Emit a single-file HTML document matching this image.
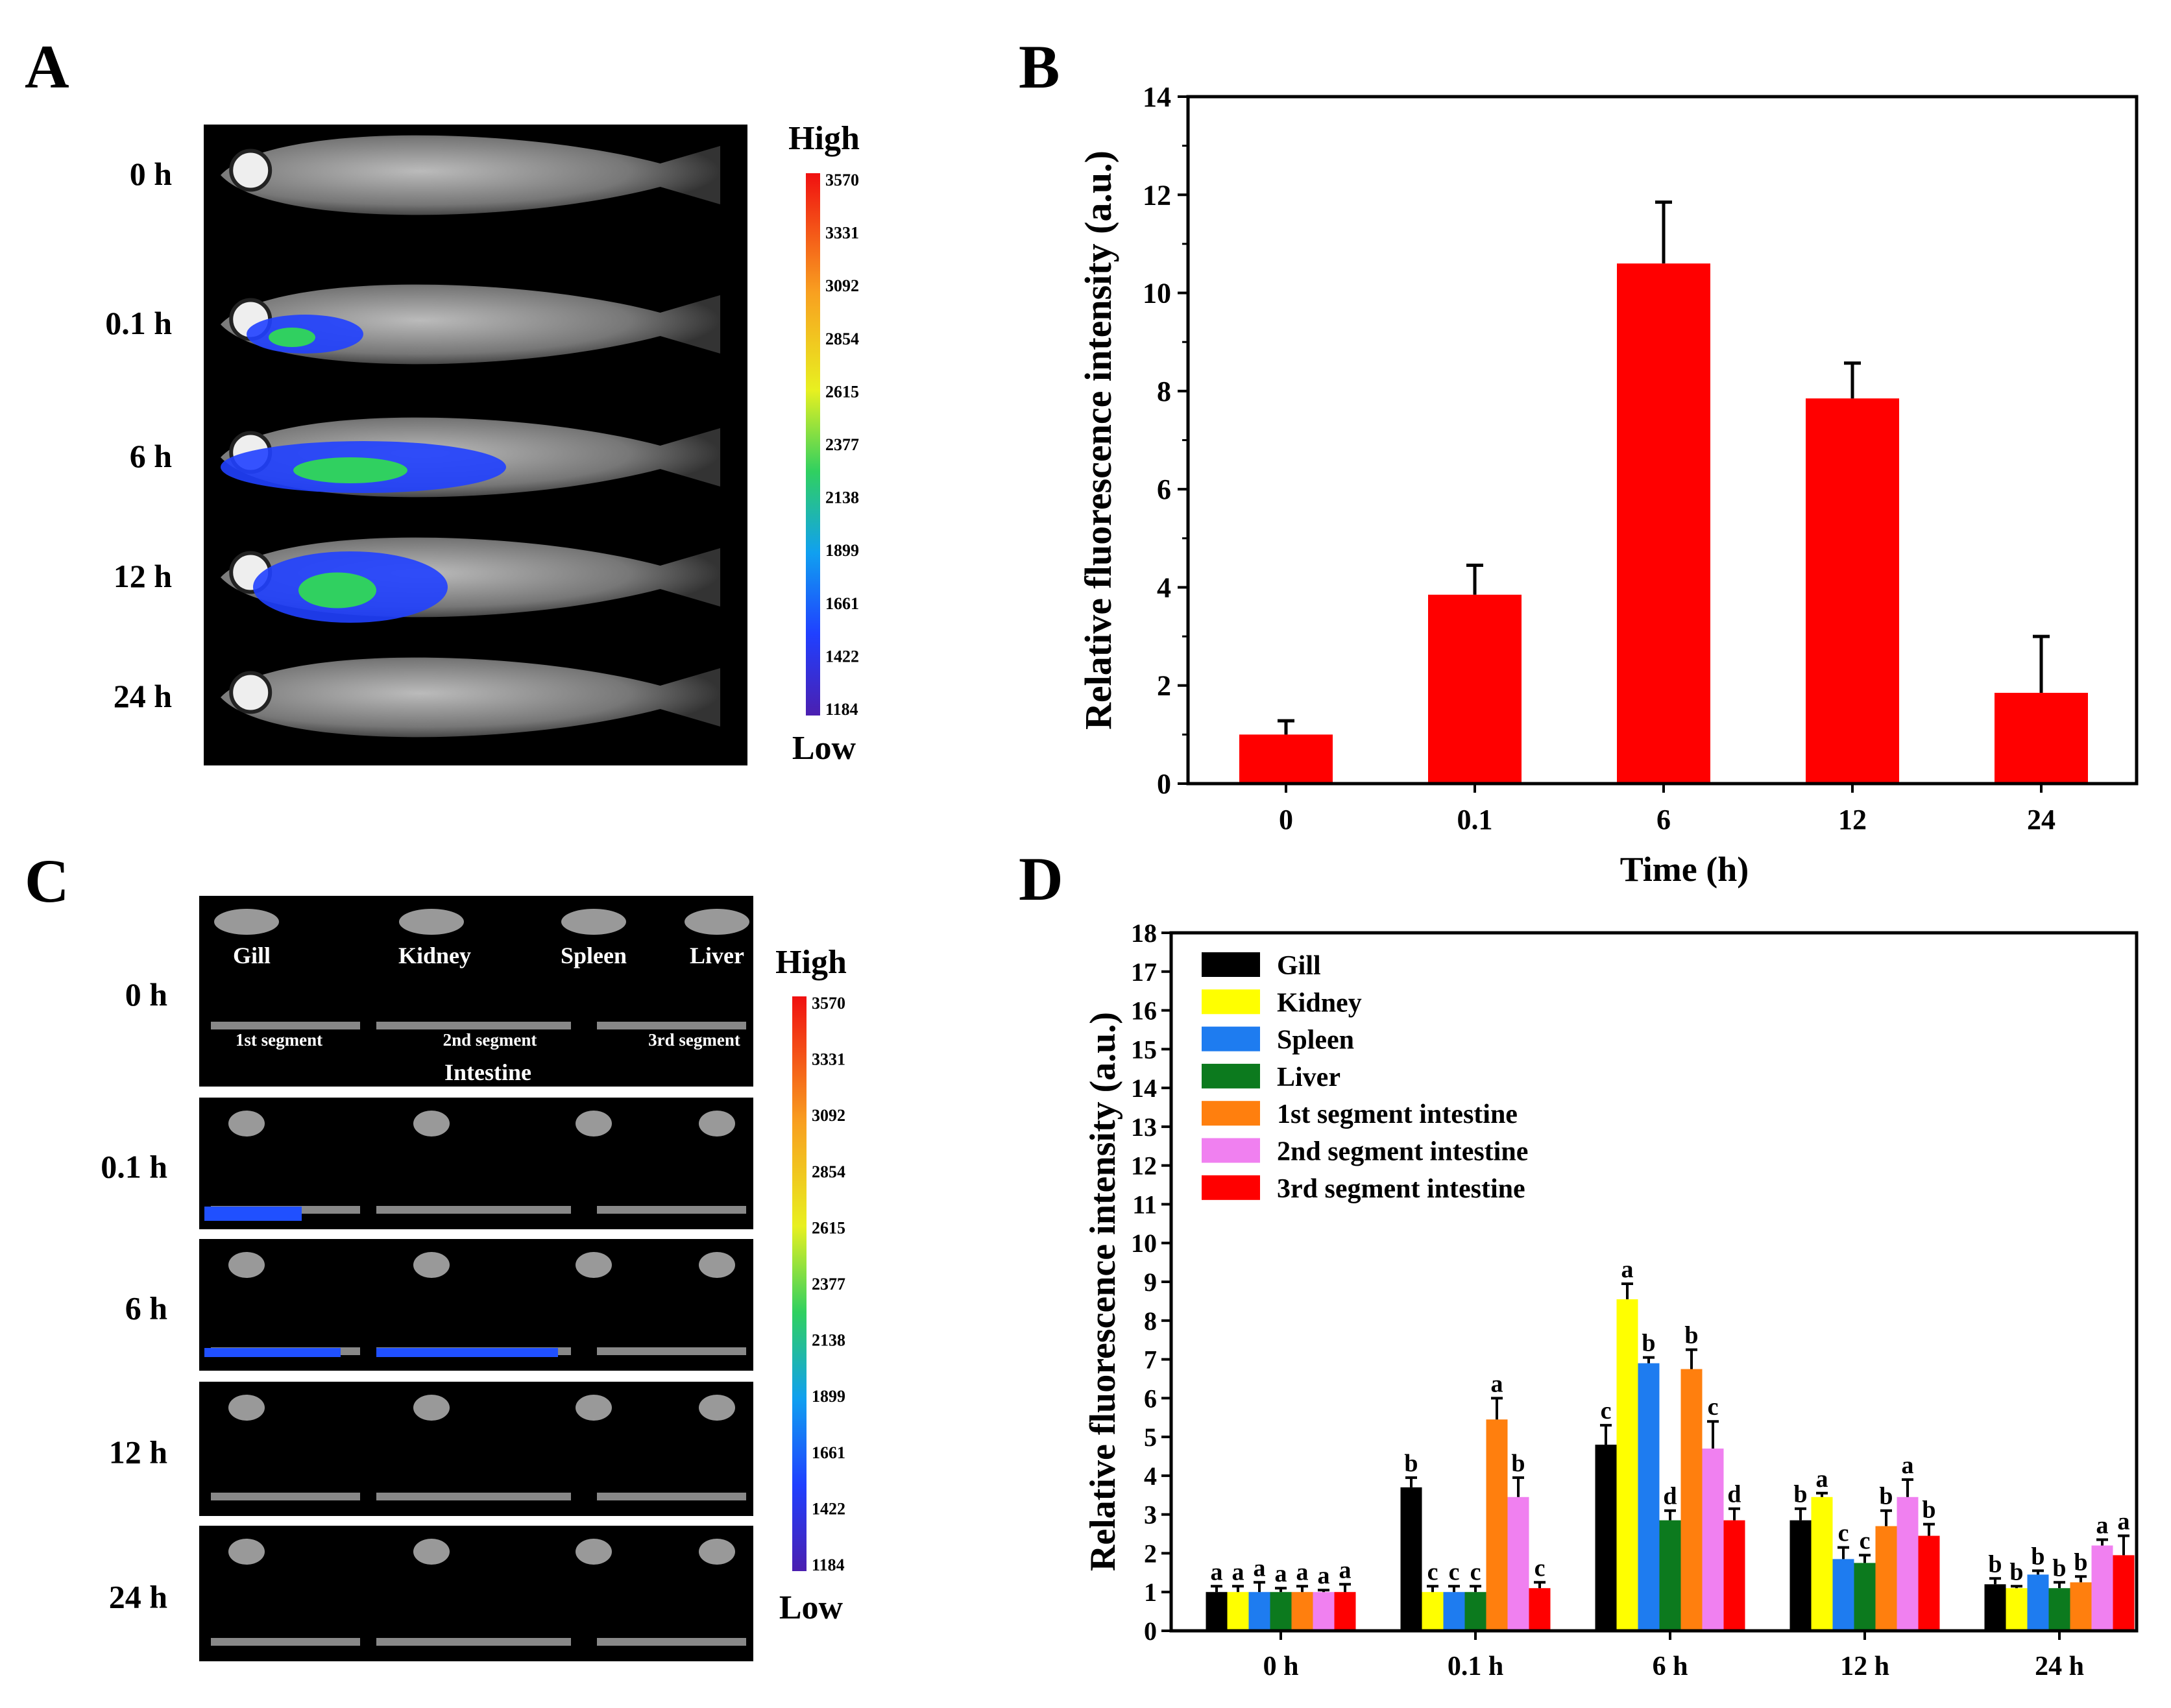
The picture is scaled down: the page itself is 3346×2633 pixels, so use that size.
<!DOCTYPE html>
<html><head><meta charset="utf-8"><style>
html,body{margin:0;padding:0;background:#fff;overflow:hidden}
svg{display:block;font-family:"Liberation Serif",serif;font-weight:bold}
</style></head><body>
<svg id="fig" width="3346" height="2633" viewBox="0 0 3346 2633">
<defs>
<linearGradient id="cbar" x1="0" y1="1" x2="0" y2="0">
<stop offset="0" stop-color="#4b1fb0"/><stop offset="0.15" stop-color="#2040ff"/><stop offset="0.3" stop-color="#10a0f0"/><stop offset="0.45" stop-color="#30d060"/><stop offset="0.6" stop-color="#e8f020"/><stop offset="0.78" stop-color="#f8a020"/><stop offset="1" stop-color="#f01010"/>
</linearGradient>
<radialGradient id="fishg" cx="0.4" cy="0.45" r="0.6"><stop offset="0" stop-color="#bbb"/><stop offset="0.7" stop-color="#777"/><stop offset="1" stop-color="#333"/></radialGradient>
</defs>
<g id="panelA"></g>
<g id="panelC"></g>
<g id="panelB"></g>
<g id="panelD"></g>
</svg>
<script>
const bTimes=["0","0.1","6","12","24"];
const bValues=[1.0,3.85,10.6,7.85,1.85];
const bErrors=[0.28,0.6,1.25,0.72,1.15];
const bTicks=[0,2,4,6,8,10,12,14];

const dGroups=["0 h","0.1 h","6 h","12 h","24 h"];
const dSeriesNames=["Gill","Kidney","Spleen","Liver","1st segment intestine","2nd segment intestine","3rd segment intestine"];
const dColors=["#000000","#ffff00","#1e7cf0","#0c7a1e","#ff7f0e","#f080f0","#ff0000"];
const gillVals=[1.0,3.7,4.8,2.85,1.2];
const kidneyVals=[1.0,1.0,8.55,3.45,1.1];
const spleenVals=[1.0,1.0,6.9,1.85,1.45];
const liverVals=[1.0,1.0,2.85,1.75,1.1];
const seg1Vals=[1.0,5.45,6.75,2.7,1.25];
const seg2Vals=[1.0,3.45,4.7,3.45,2.2];
const seg3Vals=[1.0,1.1,2.85,2.45,1.95];
const gillErr=[0.15,0.25,0.5,0.3,0.15];
const kidneyErr=[0.15,0.15,0.4,0.1,0.05];
const spleenErr=[0.25,0.15,0.15,0.3,0.1];
const liverErr=[0.1,0.15,0.25,0.2,0.15];
const seg1Err=[0.15,0.55,0.5,0.4,0.15];
const seg2Err=[0.05,0.5,0.7,0.45,0.15];
const seg3Err=[0.2,0.15,0.3,0.3,0.5];
const gillLet=["a","b","c","b","b"];
const kidneyLet=["a","c","a","a","b"];
const spleenLet=["a","c","b","c","b"];
const liverLet=["a","c","d","c","b"];
const seg1Let=["a","a","b","b","b"];
const seg2Let=["a","b","c","a","a"];
const seg3Let=["a","c","d","b","a"];
const dTicks=[0,1,2,3,4,5,6,7,8,9,10,11,12,13,14,15,16,17,18];
const cbarLabels=["3570","3331","3092","2854","2615","2377","2138","1899","1661","1422","1184"];

const NS="http://www.w3.org/2000/svg";
function mk(parent,tag,attrs,text){const e=document.createElementNS(NS,tag);for(const k in attrs)e.setAttribute(k,attrs[k]);if(text!==undefined)e.textContent=text;parent.appendChild(e);return e;}

(function(){
const g=document.getElementById('panelB');
const L=1831,R=3293,T=149,B=1208,ymax=14;
const y=v=>B-(v/ymax)*(B-T);
const xc=i=>1982+i*291;
const t=mk(g,'text',{x:1570,y:135,'font-size':95},'B');


bValues.forEach((v,i)=>{
 const r=mk(g,'rect',{x:xc(i)-72,y:y(v),width:144,height:B-y(v),fill:'#ff0000'});
 
 
 const e=mk(g,'path',{d:`M${xc(i)},${y(v)}V${y(v+bErrors[i])}M${xc(i)-13},${y(v+bErrors[i])}H${xc(i)+13}`,stroke:'#000','stroke-width':5,fill:'none'});
 
 
 const tl=mk(g,'text',{x:xc(i),y:B+70,'text-anchor':'middle','font-size':44},bTimes[i]);
 
 
 mk(g,'line',{x1:xc(i),x2:xc(i),y1:B,y2:B+14,stroke:'#000','stroke-width':4});
});
bTicks.forEach(v=>{
 mk(g,'line',{x1:L-16,x2:L,y1:y(v),y2:y(v),stroke:'#000','stroke-width':4});
 if(v<14) mk(g,'line',{x1:L-9,x2:L,y1:y(v+1),y2:y(v+1),stroke:'#000','stroke-width':3});
 const tl=mk(g,'text',{x:L-26,y:y(v)+15,'text-anchor':'end','font-size':44},v);
 
 
});
const fr=mk(g,'rect',{x:L,y:T,width:R-L,height:B-T,fill:'none',stroke:'#000','stroke-width':5});


const xt=mk(g,'text',{x:2596,y:1358,'font-size':54,'text-anchor':'middle'},'Time (h)');


const yt=mk(g,'text',{transform:`translate(1712,${(T+B)/2}) rotate(-90)`,'text-anchor':'middle','font-size':58},'Relative fluorescence intensity (a.u.)');


})();

(function(){
const g=document.getElementById('panelD');
const L=1805,R=3293,T=1438,B=2514,ymax=18;
const y=v=>B-(v/ymax)*(B-T);
const xc=i=>1974+i*300;
const bw=33;
const vals=[gillVals,kidneyVals,spleenVals,liverVals,seg1Vals,seg2Vals,seg3Vals];
const errs=[gillErr,kidneyErr,spleenErr,liverErr,seg1Err,seg2Err,seg3Err];
const lets=[gillLet,kidneyLet,spleenLet,liverLet,seg1Let,seg2Let,seg3Let];
const t=mk(g,'text',{x:1570,y:1387,'font-size':95},'D');


dGroups.forEach((gn,i)=>{
 vals.forEach((s,k)=>{
  const cx=xc(i)+(k-3)*bw;
  const v=s[i],e=errs[k][i];
  const r=mk(g,'rect',{x:cx-bw/2,y:y(v),width:bw,height:B-y(v),fill:dColors[k]});
  
  
  mk(g,'path',{d:`M${cx},${y(v)}V${y(v+e)}M${cx-9},${y(v+e)}H${cx+9}`,stroke:'#000','stroke-width':4,fill:'none'});
  const lt=mk(g,'text',{x:cx,y:y(v+e)-10,'text-anchor':'middle','font-size':38},lets[k][i]);
  
  
 });
 mk(g,'line',{x1:xc(i),x2:xc(i),y1:B,y2:B+14,stroke:'#000','stroke-width':4});
 const tl=mk(g,'text',{x:xc(i),y:B+68,'text-anchor':'middle','font-size':42},gn);
 
 
});
dTicks.forEach(v=>{
 mk(g,'line',{x1:L-15,x2:L,y1:y(v),y2:y(v),stroke:'#000','stroke-width':4});
 const tl=mk(g,'text',{x:L-22,y:y(v)+14,'text-anchor':'end','font-size':40},v);
 
 
});
const fr=mk(g,'rect',{x:L,y:T,width:R-L,height:B-T,fill:'none',stroke:'#000','stroke-width':5});


const yt=mk(g,'text',{transform:`translate(1718,${(T+B)/2+15}) rotate(-90)`,'text-anchor':'middle','font-size':56},'Relative fluorescence intensity (a.u.)');


const lg=mk(g,'g',{});


dSeriesNames.forEach((n,k)=>{
 const yy=1468+k*57.3;
 mk(lg,'rect',{x:1852,y:yy,width:90,height:38,fill:dColors[k]});
 const tx=mk(lg,'text',{x:1968,y:yy+34,'font-size':42},n);
 
 
});
})();

function colorbar(g,x,top,bot,highY,lowY,lx){
 mk(g,'rect',{x:x,y:top,width:22,height:bot-top,fill:'url(#cbar)'});
 const h=mk(g,'text',{x:lx,y:highY,'font-size':52,'text-anchor':'middle'},'High');
 
 
 const l=mk(g,'text',{x:lx,y:lowY,'font-size':52,'text-anchor':'middle'},'Low');
 
 
 cbarLabels.forEach((c,i)=>{
  const yy=top+10+i*(bot-top-20)/(cbarLabels.length-1);
  const t=mk(g,'text',{x:x+30,y:yy+9,'font-size':26},c);
  
  
 });
}
function fish(g,x0,y0,w,h){
 mk(g,'path',{d:`M${x0},${y0} C${x0+w*0.1},${y0-h*0.55} ${x0+w*0.6},${y0-h*0.5} ${x0+w*0.88},${y0-h*0.12} L${x0+w},${y0-h*0.3} L${x0+w},${y0+h*0.3} L${x0+w*0.88},${y0+h*0.12} C${x0+w*0.6},${y0+h*0.5} ${x0+w*0.1},${y0+h*0.55} ${x0},${y0} Z`,fill:'url(#fishg)'});
 mk(g,'circle',{cx:x0+w*0.06,cy:y0-h*0.05,r:h*0.2,fill:'#eee',stroke:'#222','stroke-width':6});
}

(function(){
const g=document.getElementById('panelA');
const t=mk(g,'text',{x:38,y:135,'font-size':95},'A');


const bg=mk(g,'rect',{x:314,y:192,width:838,height:988,fill:'#000'});


const rows=[["0 h",270],["0.1 h",500],["6 h",705],["12 h",890],["24 h",1075]];
rows.forEach(([n,yy])=>{
 fish(g,340,yy,770,150);
 const tl=mk(g,'text',{x:265,y:yy+15,'font-size':50,'text-anchor':'end'},n);
 
 
});
[[470,515,90,30],[560,720,220,40],[540,905,150,55]].forEach(([cx,cy,rx,ry])=>{
 mk(g,'ellipse',{cx:cx,cy:cy,rx:rx,ry:ry,fill:'#2040ff',opacity:0.9});
 mk(g,'ellipse',{cx:cx-20,cy:cy+5,rx:rx*0.4,ry:ry*0.5,fill:'#30d060'});
});
colorbar(g,1242,267,1103,230,1170,1270);
})();

(function(){
const g=document.getElementById('panelC');
const t=mk(g,'text',{x:38,y:1390,'font-size':95},'C');


const rows=[["0 h",1381,1675],["0.1 h",1692,1895],["6 h",1910,2113],["12 h",2130,2337],["24 h",2352,2561]];
rows.forEach(([n,a,b],i)=>{
 const r=mk(g,'rect',{x:307,y:a,width:854,height:b-a,fill:'#000'});
 
 
 const tl=mk(g,'text',{x:258,y:(a+b)/2+22,'font-size':50,'text-anchor':'end'},n);
 
 
 [380,665,915,1105].forEach(cx=>mk(g,'ellipse',{cx:cx,cy:a+40,rx:i?28:50,ry:20,fill:'#999'}));
 const ly=i?b-30:a+200;
 mk(g,'rect',{x:325,y:ly-6,width:230,height:12,fill:'#888'});
 mk(g,'rect',{x:580,y:ly-6,width:300,height:12,fill:'#888'});
 mk(g,'rect',{x:920,y:ly-6,width:230,height:12,fill:'#888'});
});
mk(g,'rect',{x:580,y:2078,width:280,height:14,fill:'#2050ff'});
mk(g,'rect',{x:315,y:2078,width:210,height:14,fill:'#2050ff'});
mk(g,'rect',{x:315,y:1860,width:150,height:22,fill:'#2050ff'});
[["Gill",388],["Kidney",670],["Spleen",915],["Liver",1105]].forEach(([n,x])=>{
 const tx=mk(g,'text',{x:x,y:1485,'font-size':36,fill:'#fff','text-anchor':'middle'},n);
 
 
});
[["1st segment",430],["2nd segment",755],["3rd segment",1070]].forEach(([n,x])=>{
 const tx=mk(g,'text',{x:x,y:1612,'font-size':27,fill:'#fff','text-anchor':'middle'},n);
 
 
});
const it=mk(g,'text',{x:752,y:1665,'font-size':36,fill:'#fff','text-anchor':'middle'},'Intestine');


colorbar(g,1221,1536,2422,1500,2495,1250);
})();
</script>
</body></html>
